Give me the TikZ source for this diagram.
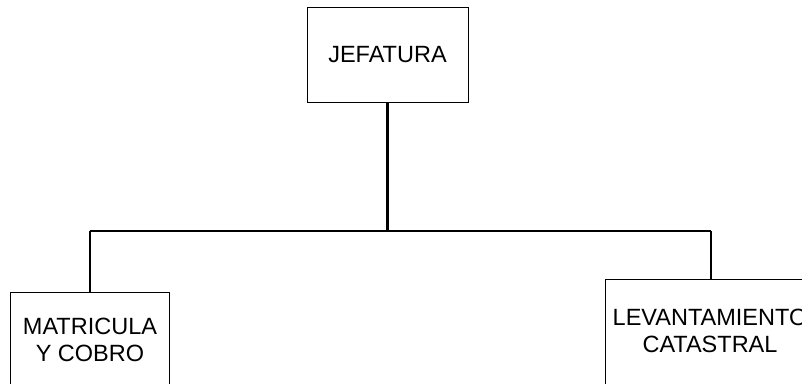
\documentclass[tikz,border=0pt]{standalone}
\usepackage{fontspec}
\setmainfont{Liberation Sans}
\begin{document}
\begin{tikzpicture}[x=1pt,y=1pt,
  box/.style={draw=black, line width=0.8pt, fill=white, inner sep=0pt},
  lbl/.style={font=\fontsize{23.5}{27}\selectfont, align=center, inner sep=0pt},
  conn/.style={draw=black, line width=2.8pt}]
\useasboundingbox (0,0) rectangle (802,-383);
\clip (0,0) rectangle (802,-383);
\node[box, minimum width=161pt, minimum height=95pt, font=\fontsize{23.5}{27}\selectfont] (jef) at (387.5,-54.5) {JEFATURA};
\node[box, minimum width=159pt, minimum height=130pt, anchor=north west] (mat) at (10,-292) {};
\node[lbl] (matt) at (90,-340) {MATRICULA\\Y COBRO};
\node[box, minimum width=250pt, minimum height=130pt, anchor=north west] (lev) at (605,-279) {};
\node[lbl] (levt) at (710,-331) {LEVANTAMIENTO\\CATASTRAL};
\coordinate (bl) at (90,-231);
\coordinate (br) at (711,-231);
\draw[conn] (jef.south) -- (jef.south |- bl);
\draw[conn] (bl) -- (br);
\draw[conn] (bl) -- (bl |- mat.north);
\draw[conn] (br) -- (br |- lev.north);
\end{tikzpicture}
\end{document}
